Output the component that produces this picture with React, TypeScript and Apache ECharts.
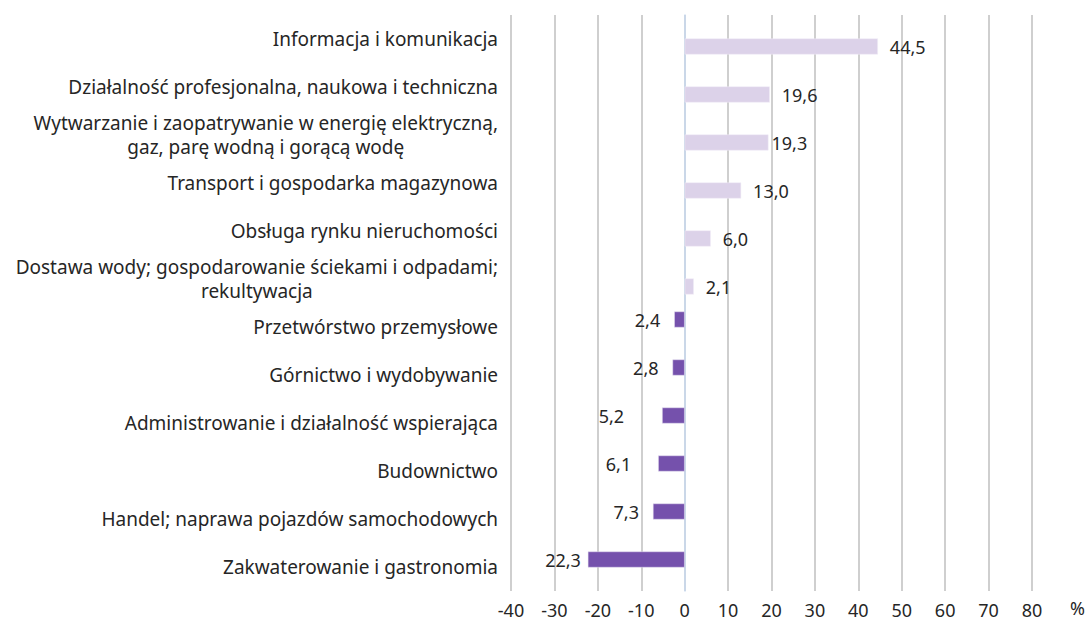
import React, { useEffect, useRef } from "react";
import * as echarts from "echarts";

const categories: string[] = [
  "Informacja i komunikacja",
  "Działalność profesjonalna, naukowa i techniczna",
  "Wytwarzanie i zaopatrywanie w energię elektryczną,\ngaz, parę wodną i gorącą wodę",
  "Transport i gospodarka magazynowa",
  "Obsługa rynku nieruchomości",
  "Dostawa wody; gospodarowanie ściekami i odpadami;\nrekultywacja",
  "Przetwórstwo przemysłowe",
  "Górnictwo i wydobywanie",
  "Administrowanie i działalność wspierająca",
  "Budownictwo",
  "Handel; naprawa pojazdów samochodowych",
  "Zakwaterowanie i gastronomia",
];

const values: number[] = [44.5, 19.6, 19.3, 13.0, 6.0, 2.1, -2.4, -2.8, -5.2, -6.1, -7.3, -22.3];

const xTicks = { min: -40, max: 80, interval: 10 };
const unitLabel = "%";

// gap (px) between each bar end and its value label, as placed in the original
const labelGaps: number[] = [12, 12, 3, 12, 12, 12, 14, 14, 38, 27, 14, 7];

const FONT = "'Noto Sans', sans-serif";
const TEXT = "#262626";

export default function App() {
  const ref = useRef<HTMLDivElement>(null);
  useEffect(() => {
    document.body.style.margin = "0";
    if (!ref.current) return;
    const chart = echarts.init(ref.current, undefined, { renderer: "svg" });
    const posData = values.map((v, i) => (v >= 0 ? { value: v, label: { distance: labelGaps[i] } } : "-"));
    const negData = values.map((v, i) => (v < 0 ? { value: v, label: { distance: labelGaps[i] } } : "-"));
    const fmt = (p: any) => Math.abs(Number(p.value)).toFixed(1).replace(".", ",");
    chart.setOption({
      animation: false,
      textStyle: { fontFamily: FONT },
      grid: { left: 511, right: 56, top: 15, bottom: 31, containLabel: false },
      xAxis: {
        type: "value",
        min: xTicks.min,
        max: xTicks.max,
        interval: xTicks.interval,
        axisLine: { show: false },
        axisTick: { show: false },
        axisLabel: { color: TEXT, fontSize: 18, fontFamily: FONT, margin: 10 },
        splitLine: { show: true, lineStyle: { color: "#bfbfbf", width: 1.5 } },
      },
      yAxis: {
        type: "category",
        inverse: true,
        data: categories,
        axisLine: { show: true, lineStyle: { color: "#c9daf0", width: 1.5 } },
        axisTick: { show: false },
        axisLabel: {
          color: TEXT,
          fontSize: 19,
          fontFamily: FONT,
          margin: 13,
          align: "right",
          lineHeight: 24,
          formatter: (v: string) =>
            v
              .split("\n")
              .map((l) => `{c|${l}}`)
              .join("\n"),
          rich: { c: { align: "center", fontSize: 19, fontFamily: FONT, color: TEXT, lineHeight: 24 } },
        },
      },
      series: [
        {
          type: "bar",
          data: negData,
          barWidth: 16,
          barGap: "-6.25%",
          itemStyle: { color: "#7551ac", borderColor: "#e6e0f0", borderWidth: 0.5 },
          label: { show: true, position: "left", distance: 14, color: TEXT, fontSize: 18, fontFamily: FONT, formatter: fmt },
        },
        {
          type: "bar",
          data: posData,
          barWidth: 16,
          barGap: "-6.25%",
          itemStyle: { color: "#dcd2e9", borderColor: "#f0ecf6", borderWidth: 0.5 },
          label: { show: true, position: "right", distance: 12, color: TEXT, fontSize: 18, fontFamily: FONT, formatter: fmt },
        },
      ],
      graphic: [
        {
          type: "text",
          left: 1070,
          top: 599,
          style: { text: unitLabel, fontSize: 18, fontFamily: FONT, fill: TEXT },
        },
      ],
    });
    return () => chart.dispose();
  }, []);
  return <div ref={ref} style={{ width: 1088, height: 622 }} />;
}
